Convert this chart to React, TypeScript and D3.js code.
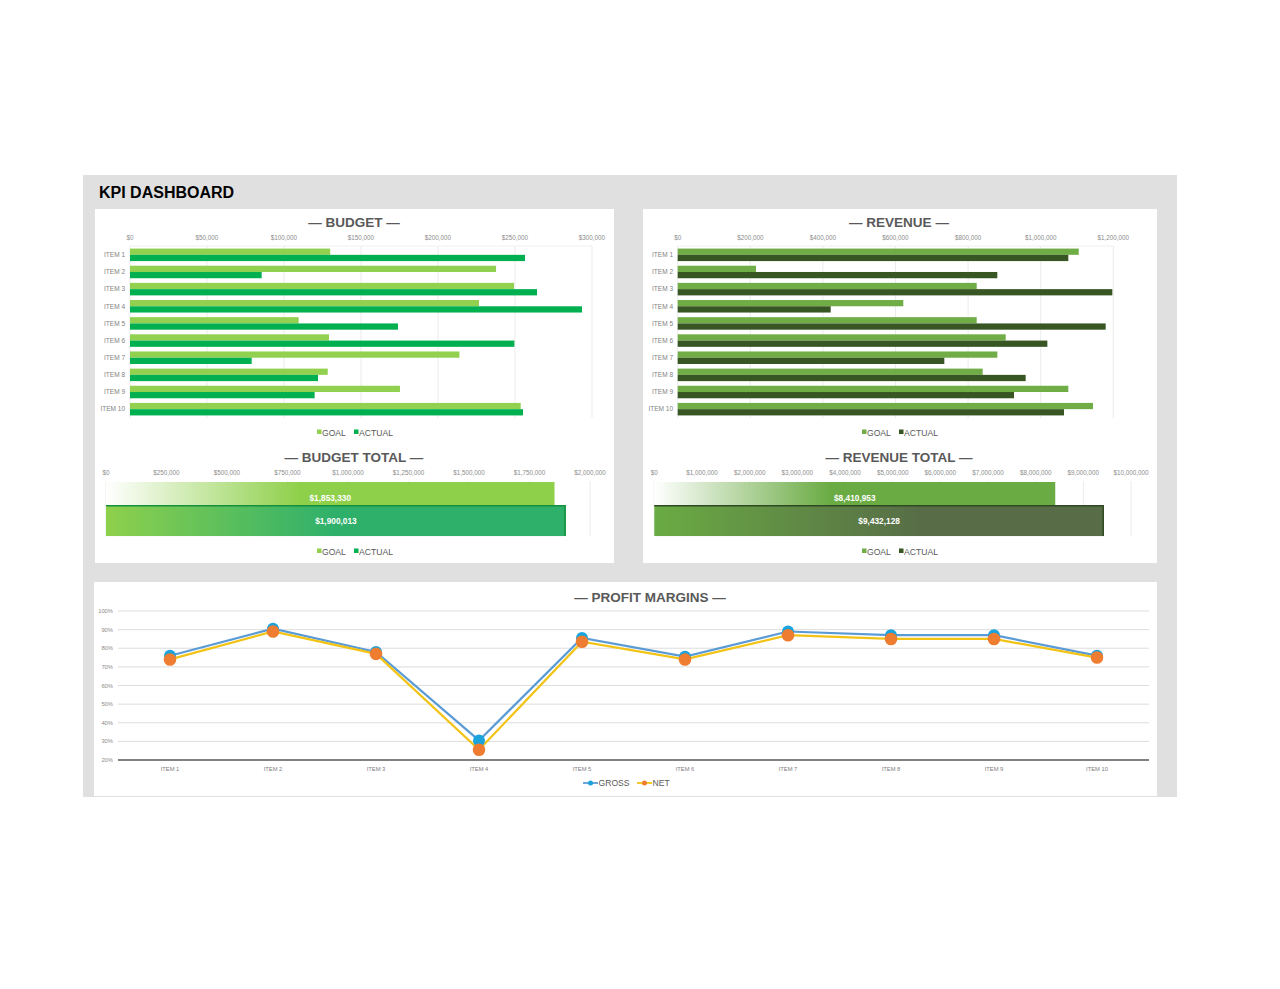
import React from "react";
import * as d3 from "d3";

const items = ["ITEM 1", "ITEM 2", "ITEM 3", "ITEM 4", "ITEM 5", "ITEM 6", "ITEM 7", "ITEM 8", "ITEM 9", "ITEM 10"];
const budgetGoal = [130000, 237700, 249400, 226600, 109500, 129200, 213900, 128400, 175300, 253700];
const budgetActual = [256500, 85500, 264300, 293500, 174000, 249600, 79000, 122100, 119900, 255200];
const budgetTicks = [0, 50000, 100000, 150000, 200000, 250000, 300000];
const revenueGoal = [1104700, 215700, 823700, 621500, 823700, 903600, 880500, 840200, 1076100, 1144100];
const revenueActual = [1076100, 880500, 1197300, 421500, 1179000, 1018300, 734500, 958600, 926500, 1064200];
const revenueTicks = [0, 200000, 400000, 600000, 800000, 1000000, 1200000];
const budgetTotals = [1853330, 1900013];
const budgetTotalTicks = [0, 250000, 500000, 750000, 1000000, 1250000, 1500000, 1750000, 2000000];
const revenueTotals = [8410953, 9432128];
const revenueTotalTicks = [0, 1000000, 2000000, 3000000, 4000000, 5000000, 6000000, 7000000, 8000000, 9000000, 10000000];
const grossMargin = [76, 90.5, 78, 30.5, 85.5, 75.5, 89, 87, 87, 76];
const netMargin = [74, 89, 77, 25.5, 83.5, 74, 87, 85, 85, 75];
const marginTicks = [20, 30, 40, 50, 60, 70, 80, 90, 100];

const FONT = "'Liberation Sans', Arial, Helvetica, sans-serif";
const money = (v: number) => "$" + d3.format(",")(v);

function BarPanel(props: {
  x0: number; x1: number; max: number; ticks: number[]; goal: number[]; actual: number[];
  goalColor: string; actualColor: string; title: string; titleX: number; labelRight: number;
}) {
  const { x0, x1, max, ticks, goal, actual, goalColor, actualColor, title, titleX, labelRight } = props;
  const x = d3.scaleLinear().domain([0, max]).range([x0, x1]);
  const y = d3.scaleBand<string>().domain(items).range([246, 418]).paddingInner(0.27).paddingOuter(0.15);
  const sub = d3.scaleBand<string>().domain(["g", "a"]).range([0, y.bandwidth()]);
  const legX = titleX;
  return (
    <g>
      <text x={titleX} y={227} textAnchor="middle" fontFamily={FONT} fontWeight="bold" fontSize={13.5} fill="#595959">{title}</text>
      {ticks.map((t) => (
        <g key={t}>
          <line x1={x(t)} x2={x(t)} y1={246} y2={418} stroke="#e6e6e6" strokeWidth={0.8} />
          <text x={x(t)} y={240} textAnchor="middle" fontFamily={FONT} fontSize={6.3} fill="#8c8c8c">{money(t)}</text>
        </g>
      ))}
      <line x1={x0} x2={x1} y1={246} y2={246} stroke="#ececec" strokeWidth={0.8} />
      {items.map((it, i) => (
        <g key={it}>
          <rect x={x(0)} y={y(it)! + sub("g")!} width={x(goal[i]) - x(0)} height={sub.bandwidth()} fill={goalColor} />
          <rect x={x(0)} y={y(it)! + sub("a")!} width={x(actual[i]) - x(0)} height={sub.bandwidth()} fill={actualColor} />
          <text x={labelRight} y={y(it)! + y.bandwidth() / 2 + 2.3} textAnchor="end" fontFamily={FONT} fontSize={6.5} fill="#7f7f7f">{it}</text>
        </g>
      ))}
      <Legend cx={legX} y={435.5} c1={goalColor} c2={actualColor} />
    </g>
  );
}

function Legend(props: { cx: number; y: number; c1: string; c2: string }) {
  const { cx, y, c1, c2 } = props;
  return (
    <g fontFamily={FONT} fontSize={8.6} fill="#595959">
      <rect x={cx - 37} y={y - 6} width={4.5} height={4.5} fill={c1} />
      <text x={cx - 32} y={y}>GOAL</text>
      <rect x={cx} y={y - 6} width={4.5} height={4.5} fill={c2} />
      <text x={cx + 5} y={y}>ACTUAL</text>
    </g>
  );
}

function TotalPanel(props: {
  x0: number; x1: number; max: number; ticks: number[]; totals: number[]; id: string;
  goalColor: string; actualStart: string; actualColor: string; border: string; title: string; titleX: number; legendGoal: string; legendActual: string;
  goalFade: number; actualFade: number;
}) {
  const { x0, x1, max, ticks, totals, id, goalColor, actualStart, actualColor, border, title, titleX, legendGoal, legendActual, goalFade, actualFade } = props;
  const x = d3.scaleLinear().domain([0, max]).range([x0, x1]);
  const y = d3.scaleBand<string>().domain(["GOAL", "ACTUAL"]).range([482, 528]);
  const h = y.bandwidth() * 1.35;
  return (
    <g>
      <defs>
        <linearGradient id={id + "g"} x1="0" x2="1" y1="0" y2="0">
          <stop offset="0" stopColor="#ffffff" />
          <stop offset={goalFade} stopColor={goalColor} />
          <stop offset="1" stopColor={goalColor} />
        </linearGradient>
        <linearGradient id={id + "a"} x1="0" x2="1" y1="0" y2="0">
          <stop offset="0" stopColor={actualStart} />
          <stop offset={actualFade} stopColor={actualColor} />
          <stop offset="1" stopColor={actualColor} />
        </linearGradient>
      </defs>
      <text x={titleX} y={462} textAnchor="middle" fontFamily={FONT} fontWeight="bold" fontSize={13.5} fill="#595959">{title}</text>
      {ticks.map((t) => (
        <g key={t}>
          <line x1={x(t)} x2={x(t)} y1={481} y2={536} stroke="#e6e6e6" strokeWidth={0.8} />
          <text x={x(t)} y={475} textAnchor="middle" fontFamily={FONT} fontSize={6.3} fill="#8c8c8c">{money(t)}</text>
        </g>
      ))}
      <rect x={x(0)} y={y("GOAL")!} width={x(totals[0]) - x(0)} height={h} fill={`url(#${id}g)`} />
      <rect x={x(0)} y={y("ACTUAL")!} width={x(totals[1]) - x(0)} height={h} fill={`url(#${id}a)`} />
      <path d={`M${x(0)},${y("ACTUAL")! + 0.75}H${x(totals[1]) - 0.75}V${y("ACTUAL")! + h}`} fill="none" stroke={border} strokeWidth={1.5} />
      <text x={(x(0) + x(totals[0])) / 2} y={y("GOAL")! + h / 2 + 3} textAnchor="middle" fontFamily={FONT} fontWeight="bold" fontSize={8.3} fill="#ffffff">{money(totals[0])}</text>
      <text x={(x(0) + x(totals[1])) / 2} y={y("ACTUAL")! + h / 2 + 3} textAnchor="middle" fontFamily={FONT} fontWeight="bold" fontSize={8.3} fill="#ffffff">{money(totals[1])}</text>
      <Legend cx={titleX} y={554.5} c1={legendGoal} c2={legendActual} />
    </g>
  );
}

function ProfitPanel() {
  const x = d3.scaleBand<string>().domain(items).range([118.5, 1148.5]);
  const y = d3.scaleLinear().domain([20, 100]).range([760, 611]);
  const cx = (it: string) => x(it)! + x.bandwidth() / 2;
  const line = d3.line<number>().x((_, i) => cx(items[i])).y((v) => y(v));
  return (
    <g>
      <text x={650} y={602} textAnchor="middle" fontFamily={FONT} fontWeight="bold" fontSize={13.5} fill="#595959">— PROFIT MARGINS —</text>
      {marginTicks.map((t) => (
        <g key={t}>
          <line x1={118} x2={1149} y1={y(t)} y2={y(t)} stroke={t === 20 ? "#595959" : "#d9d9d9"} strokeWidth={t === 20 ? 1.3 : 0.9} />
          <text x={113} y={y(t) + 2} textAnchor="end" fontFamily={FONT} fontSize={5.8} fill="#8c8c8c">{t}%</text>
        </g>
      ))}
      {items.map((it) => (
        <text key={it} x={cx(it)} y={771} textAnchor="middle" fontFamily={FONT} fontSize={5.8} fill="#7f7f7f">{it}</text>
      ))}
      <path d={line(grossMargin)!} fill="none" stroke="#5b9bd5" strokeWidth={2.2} />
      <path d={line(netMargin)!} fill="none" stroke="#f2c314" strokeWidth={2.2} />
      {grossMargin.map((v, i) => (
        <circle key={"g" + i} cx={cx(items[i])} cy={y(v)} r={6} fill="#1aa3dc" />
      ))}
      {netMargin.map((v, i) => (
        <circle key={"n" + i} cx={cx(items[i])} cy={y(v)} r={6.3} fill="#ee7d31" />
      ))}
      <g fontFamily={FONT} fontSize={8.6} fill="#595959">
        <line x1={583} x2={598} y1={783} y2={783} stroke="#5b9bd5" strokeWidth={1.8} />
        <circle cx={590.5} cy={783} r={2.5} fill="#1aa3dc" />
        <text x={598.5} y={786}>GROSS</text>
        <line x1={637} x2={652} y1={783} y2={783} stroke="#f2c314" strokeWidth={1.8} />
        <circle cx={644.5} cy={783} r={2.5} fill="#ee7d31" />
        <text x={652.5} y={786}>NET</text>
      </g>
    </g>
  );
}

export default function App() {
  return (
    <div style={{ position: "absolute", left: 0, top: 0 }}>
      <svg width={1280} height={989} style={{ display: "block", background: "#ffffff" }}>
        <rect x={83} y={175} width={1094} height={622} fill="#e0e0e0" />
        <text x={99} y={198} fontFamily={FONT} fontWeight="bold" fontSize={16} fill="#000000">KPI DASHBOARD</text>
        <rect x={95} y={209} width={519} height={354} fill="#ffffff" />
        <rect x={643} y={209} width={514} height={354} fill="#ffffff" />
        <rect x={94} y={582} width={1063} height={214} fill="#ffffff" />
        <BarPanel x0={130} x1={592} max={300000} ticks={budgetTicks} goal={budgetGoal} actual={budgetActual}
          goalColor="#92d050" actualColor="#00b050" title="— BUDGET —" titleX={354} labelRight={125} />
        <BarPanel x0={677.7} x1={1113.3} max={1200000} ticks={revenueTicks} goal={revenueGoal} actual={revenueActual}
          goalColor="#70ad47" actualColor="#375623" title="— REVENUE —" titleX={899} labelRight={673} />
        <TotalPanel x0={106} x1={590} max={2000000} ticks={budgetTotalTicks} totals={budgetTotals} id="bt"
          goalColor="#8fd04b" actualStart="#8ed04c" actualColor="#2eb06b" border="#15903c" title="— BUDGET TOTAL —" titleX={354}
          legendGoal="#92d050" legendActual="#00b050" goalFade={0.43} actualFade={0.5} />
        <TotalPanel x0={654.3} x1={1131} max={10000000} ticks={revenueTotalTicks} totals={revenueTotals} id="rt"
          goalColor="#6aab43" actualStart="#6aab43" actualColor="#576c47" border="#2f4a22" title="— REVENUE TOTAL —" titleX={899}
          legendGoal="#70ad47" legendActual="#375623" goalFade={0.44} actualFade={0.6} />
        <ProfitPanel />
      </svg>
    </div>
  );
}
